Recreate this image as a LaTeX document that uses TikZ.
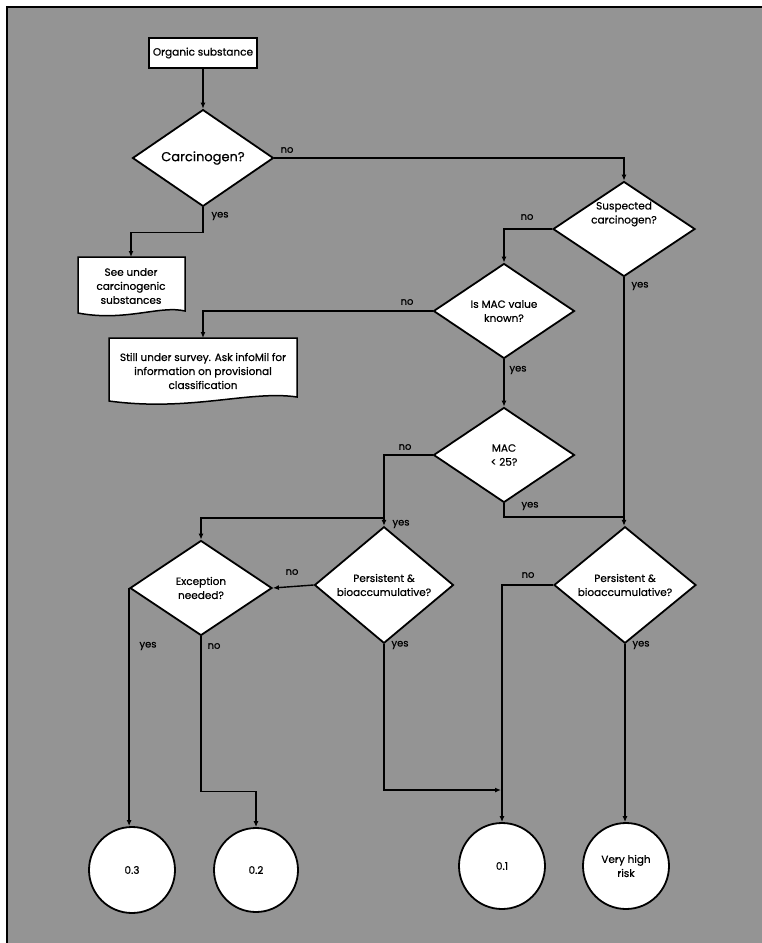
\documentclass[tikz,border=0pt]{standalone}
\usepackage{fontspec}
\setmainfont{Poppins}[FakeBold=0.6]
\usetikzlibrary{shapes.geometric,arrows.meta,backgrounds,calc}
\begin{document}
\begin{tikzpicture}[x=1pt,y=-1pt,
  every node/.style={font=\fontsize{10.5}{14}\selectfont},
  box/.style={draw, fill=white, line width=1.4pt, minimum width=108pt, minimum height=30pt, inner sep=0pt},
  dia/.style={diamond, draw, fill=white, line width=1.8pt, inner sep=0pt, align=center, minimum width=141pt, minimum height=95pt},
  doctext/.style={align=center, inner sep=0pt},
  docshape/.style={draw, fill=white, line width=1.5pt},
  circ/.style={circle, draw, fill=white, line width=1.8pt, minimum size=86pt, inner sep=0pt, align=center},
  conn/.style={line width=1.4pt},
  arr/.style={conn, -{Latex[length=6pt,width=5pt]}},
  lbl/.style={font=\fontsize{10}{12}\selectfont, inner sep=1pt},
]
\useasboundingbox (0,0) rectangle (762,943);
\begin{scope}[on background layer]
  \fill[white] (0,0) rectangle (762,943);
  \fill[black!42] (7,7) rectangle (762,943);
\end{scope}
\draw[line width=1.2pt] (7,943) -- (7,7) -- (762,7);

% nodes
\node[box] (org) at (203,53) {Organic substance};
\node[dia, font=\fontsize{13}{16}\selectfont] (carc) at (203,158) {Carcinogen?};
\node[dia, minimum width=142pt] (susp) at (624,229) {};
\node[align=center, inner sep=0pt] (susptxt) at (624,214) {Suspected\\carcinogen?};
\node[dia] (ismac) at (504,311) {Is MAC value\\known?};
\node[dia] (mac) at (504,455) {MAC\\< 25?};
\node[dia, minimum width=142pt] (exc) at (201,588) {Exception\\needed?};
\node[dia, minimum width=139pt] (perl) at (384,585) {Persistent \&\\bioaccumulative?};
\node[dia, minimum width=142pt] (perr) at (625,585) {Persistent \&\\bioaccumulative?};

% document shapes
\node[doctext] (see) at (131,286) {See under\\carcinogenic\\substances};
\node[doctext] (still) at (203,371) {Still under survey. Ask infoMil for\\information on provisional\\classification};
\begin{scope}[on background layer]
  \draw[docshape] (78,257) -- (185,257) -- (185,311)
     .. controls (160,305) and (125,322) .. (78,313) -- cycle;
  \draw[docshape] (109,338) -- (297,338) -- (297,397)
     .. controls (250,390) and (190,412) .. (109,401) -- cycle;
\end{scope}

% circles
\node[circ] (c3) at (132,870) {0.3};
\node[circ, minimum size=84pt] (c2) at (256,870) {0.2};
\node[circ] (c1) at (502,866) {0.1};
\node[circ] (vhr) at (626,866) {Very high\\risk};

% connectors
\draw[arr] (org) -- (carc);
\draw[arr] (carc.east) -| (susp.north);
\node[lbl] at (287,150) {no};
\draw[arr] (carc.south) -- ++(0,25) -| (see.north |- 0,257);
\node[lbl] at (220,216) {yes};

\draw[arr] (susp.west) -| (ismac.north);
\node[lbl] at (527,217) {no};
\draw[arr] (susp.south) -- (susp.south |- perr.north);
\node[lbl] at (640,286) {yes};

\draw[arr] (ismac.west) -| (still.north |- 0,338);
\node[lbl] at (407,302) {no};
\draw[arr] (ismac.south) -- (mac.north);
\node[lbl] at (518,370) {yes};

\coordinate (j1) at (624,517);
\draw[conn] (mac.south) |- (j1);
\node[lbl] at (530,506) {yes};

\coordinate (j2) at (384,518);
\draw[arr] (mac.west) -| (perl.north);
\draw[arr] (j2) -| (exc.north);
\node[lbl] at (405,447) {no};
\node[lbl] at (401,524) {yes};

\draw[arr] (perl.west) -- (exc.east);
\node[lbl] at (292,572) {no};

\coordinate (j3) at (501,790);
\draw[arr] (perl.south) |- (j3);
\node[lbl] at (400,645) {yes};

\draw[arr] (perr.west) -| (c1.north);
\node[lbl] at (528,575) {no};
\draw[arr] (perr.south) -- (perr.south |- vhr.north);
\node[lbl] at (641,645) {yes};

\draw[arr] (exc.west) -- (exc.west |- c3.north);
\node[lbl] at (148,646) {yes};
\draw[arr] (exc.south) -- ++(0,155) -| (c2.north);
\node[lbl] at (214,646) {no};
\end{tikzpicture}
\end{document}
